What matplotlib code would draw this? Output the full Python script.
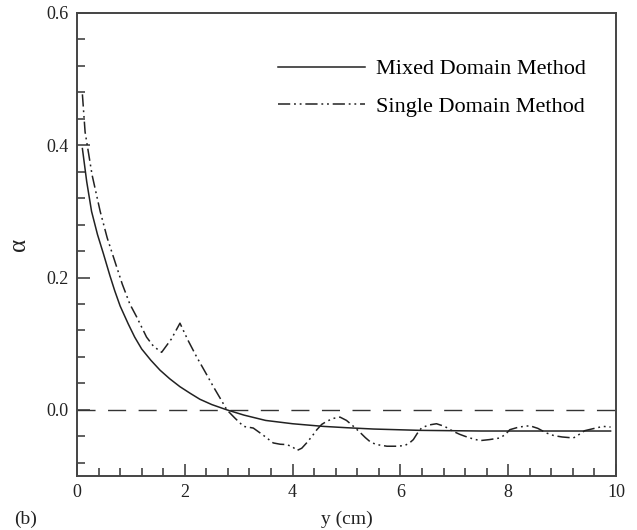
import numpy as np
import matplotlib.pyplot as plt
from matplotlib.ticker import MultipleLocator

######################################################
# data
######################################################
# mixed domain method
x_mixed = [0.1, 0.18, 0.27, 0.38, 0.49, 0.61, 0.70, 0.80, 0.95, 1.07, 1.2,
           1.37, 1.54, 1.72, 1.91, 2.1, 2.28, 2.5, 2.78, 3.1, 3.5, 4.0,
           4.57, 5.0, 5.5, 6.36, 7.5, 8.5, 9.9]
a_mixed = [0.395, 0.345, 0.30, 0.265, 0.236, 0.203, 0.18, 0.157, 0.13, 0.11, 0.092,
           0.075, 0.06, 0.047, 0.035, 0.025, 0.016, 0.008, 0.0, -0.008, -0.016, -0.021,
           -0.025, -0.027, -0.029, -0.031, -0.032, -0.032, -0.032]
# single domain method
x_single = [0.1, 0.15, 0.28, 0.43, 0.56, 0.70, 0.84, 0.98, 1.11, 1.29, 1.42,
            1.57, 1.75, 1.91, 2.06, 2.22, 2.38, 2.53, 2.66, 2.78, 2.93, 3.09,
            3.27, 3.45, 3.64, 3.77, 3.89, 4.0, 4.08, 4.17, 4.26, 4.36, 4.45,
            4.54, 4.63, 4.75, 4.88, 5.0, 5.13, 5.25, 5.35, 5.45, 5.56, 5.75,
            5.93, 6.08, 6.17, 6.24, 6.31, 6.39, 6.52, 6.67, 6.82, 6.98, 7.1,
            7.2, 7.35, 7.48, 7.65, 7.85, 7.95, 8.03, 8.2, 8.40, 8.55, 8.71,
            8.85, 9.0, 9.21, 9.32, 9.42, 9.6, 9.76, 9.9]
a_single = [0.477, 0.42, 0.355, 0.30, 0.26, 0.225, 0.19, 0.16, 0.14, 0.11, 0.096,
            0.087, 0.107, 0.131, 0.105, 0.08, 0.057, 0.035, 0.017, 0.0, -0.0125, -0.025,
            -0.0275, -0.038, -0.05, -0.052, -0.0525, -0.056, -0.0615, -0.058, -0.05, -0.04, -0.03,
            -0.022, -0.0175, -0.013, -0.011, -0.016, -0.025, -0.034, -0.042, -0.049, -0.0525, -0.055,
            -0.055, -0.054, -0.05, -0.045, -0.036, -0.0275, -0.023, -0.021, -0.025, -0.0325, -0.037,
            -0.04, -0.044, -0.0465, -0.045, -0.0425, -0.037, -0.03, -0.026, -0.024, -0.028, -0.035,
            -0.039, -0.041, -0.0425, -0.037, -0.0315, -0.028, -0.025, -0.026]
######################################################

plt.rcParams['font.family'] = 'Liberation Serif'

fig = plt.figure(figsize=(6.37, 5.3), dpi=100)
ax = fig.add_axes([0.1209, 0.1019, 0.8461, 0.8736])

ax.axhline(0.0, color='#333333', lw=1.0, ls=(0, (13, 9)))
ax.plot(x_mixed, a_mixed, color='#222222', lw=1.1, label='Mixed Domain Method')
ax.plot(x_single, a_single, color='#222222', lw=1.1,
        ls=(0, (8, 2.5, 1.2, 2.5, 1.2, 2.5)), label='Single Domain Method')

ax.set_xlim(0, 10)
ax.set_ylim(-0.1, 0.6)
ax.xaxis.set_major_locator(MultipleLocator(2))
ax.xaxis.set_minor_locator(MultipleLocator(0.4))
ax.yaxis.set_major_locator(MultipleLocator(0.2))
ax.yaxis.set_minor_locator(MultipleLocator(0.04))
ax.xaxis.set_major_formatter(plt.FormatStrFormatter('%g'))
ax.yaxis.set_major_formatter(plt.FormatStrFormatter('%.1f'))
ax.tick_params(which='both', direction='in', top=False, right=False,
               color='#444444', width=1.2, labelsize=13, labelcolor='#222222')
ax.tick_params(which='major', length=9, pad=6)
ax.tick_params(which='minor', length=6)
for s in ax.spines.values():
    s.set_color('#444444')
    s.set_linewidth(1.4)

ax.set_ylabel('α', fontsize=18, labelpad=12, color='#222222')
ax.set_xlabel('y (cm)', fontsize=14, labelpad=7, color='#222222')
fig.text(0.022, 0.012, '(b)', fontsize=14, color='#222222')

ax.legend(loc='upper right', bbox_to_anchor=(0.965, 0.925), frameon=False,
          fontsize=16, handlelength=3.9, handletextpad=0.5, labelspacing=0.75,
          borderpad=0.0)

fig.savefig('out.png', dpi=100)
